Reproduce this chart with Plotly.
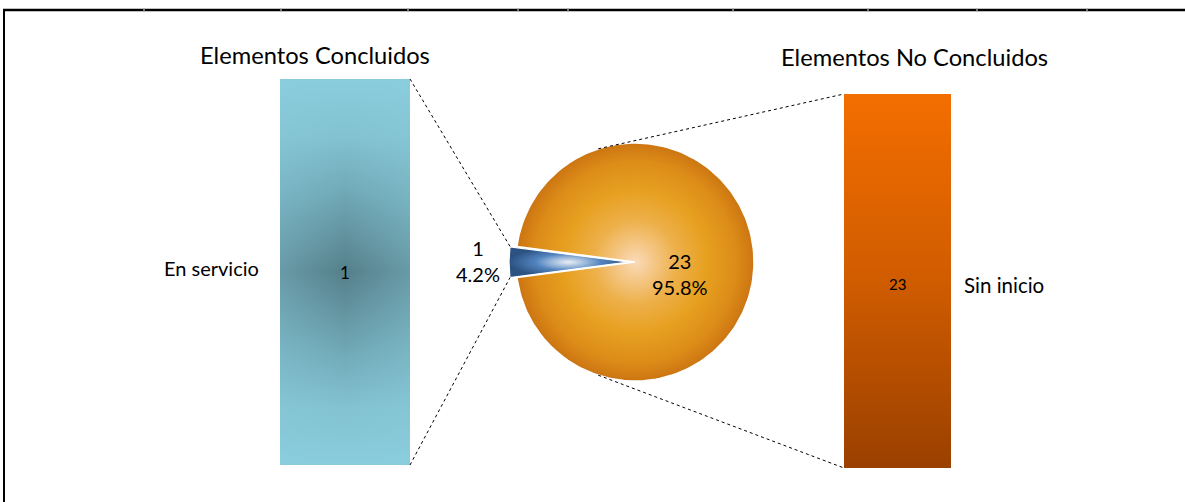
import numpy as np
import plotly.graph_objects as go

# ---------------- data ----------------
pie_labels = ["Elementos Concluidos", "Elementos No Concluidos"]
pie_values = [1, 23]
left_labels = ["En servicio"]
left_values = [1]
right_labels = ["Sin inicio"]
right_values = [23]
group_titles = ["Elementos Concluidos", "Elementos No Concluidos"]

# ---------------- layout helpers ----------------
W, H = 1185, 502
FONT = "Lato"


def px(x):
    return x / W


def py(y):
    return 1 - y / H


R = 119          # pie radius (pie axis units == pixels)
EXPLODE = 7      # explosion of the small slice
CX_PX, CY_PX = 635, 262

total = sum(pie_values)
small_half = 360.0 * pie_values[0] / total / 2.0


def wedge(a0, a1, r, dx=0.0, dy=0.0, n=180):
    ang = np.radians(np.linspace(a0, a1, n))
    xs = np.concatenate([[dx], dx + r * np.cos(ang), [dx]])
    ys = np.concatenate([[dy], dy + r * np.sin(ang), [dy]])
    return xs, ys


fig = go.Figure()

# ---- pie: big slice (No concluidos) ----
bx, by = wedge(180 + small_half, 540 - small_half, R)
fig.add_trace(go.Scatter(
    x=bx, y=by, mode="lines", fill="toself",
    line=dict(color="white", width=1.5),
    fillgradient=dict(type="radial", colorscale=[
        [0, "#FBDAB8"], [0.35, "#EDB04A"], [0.6, "#E7A020"], [0.85, "#DC8C18"], [1, "#CC7512"]]),
    hoverinfo="skip", showlegend=False, xaxis="x", yaxis="y"))

# ---- pie: small slice (Concluidos), exploded ----
ex = -EXPLODE
sx, sy = wedge(180 - small_half, 180 + small_half, R, dx=ex)
fig.add_trace(go.Scatter(
    x=sx, y=sy, mode="lines", fill="toself",
    line=dict(color="white", width=1.2),
    fillgradient=dict(type="radial", colorscale=[
        [0, "#E8EEF3"], [0.3, "#9AB8DA"], [0.55, "#5283BE"], [1, "#2C5282"]]),
    hoverinfo="skip", showlegend=False, xaxis="x", yaxis="y"))

# ---- left bar ----
lv = left_values[0]
bar_x = [-0.5, -0.5, 0.5, 0.5, -0.5]
fig.add_trace(go.Scatter(
    x=bar_x, y=[0, lv, lv, 0, 0],
    mode="lines", fill="toself", line=dict(width=0, color="rgba(0,0,0,0)"),
    fillgradient=dict(type="vertical", colorscale=[
        [0, "#8ACDDC"], [0.15, "#82C2D1"], [0.3, "#70A7B5"], [0.5, "#557F8A"],
        [0.7, "#70A7B5"], [0.85, "#82C2D1"], [1, "#8ACDDC"]]),
    hoverinfo="skip", showlegend=False, xaxis="x2", yaxis="y2"))
# soft horizontal lightening toward the sides (radial look)
fig.add_trace(go.Scatter(
    x=bar_x, y=[0, lv, lv, 0, 0],
    mode="lines", fill="toself", line=dict(width=0, color="rgba(0,0,0,0)"),
    fillgradient=dict(type="horizontal", colorscale=[
        [0, "rgba(138,205,220,0.35)"], [0.5, "rgba(138,205,220,0)"], [1, "rgba(138,205,220,0.35)"]]),
    hoverinfo="skip", showlegend=False, xaxis="x2", yaxis="y2"))

# ---- right bar ----
rv = right_values[0]
fig.add_trace(go.Scatter(
    x=bar_x, y=[0, rv, rv, 0, 0],
    mode="lines", fill="toself", line=dict(width=0, color="rgba(0,0,0,0)"),
    fillgradient=dict(type="vertical", colorscale=[
        [0, "#9A4000"], [0.5, "#D05C00"], [1, "#F36E00"]]),
    hoverinfo="skip", showlegend=False, xaxis="x3", yaxis="y3"))

# ---------------- axes ----------------
hid = dict(visible=False, showgrid=False, zeroline=False, fixedrange=True)
pie_xd = [px(455), px(815)]
pie_yd = [py(CY_PX + 140), py(CY_PX - 140)]
lb_x, lb_top, lb_bot = (280, 410), 79, 465
rb_x, rb_top, rb_bot = (844, 951), 94, 468

fig.update_layout(
    width=W, height=H, margin=dict(l=0, r=0, t=0, b=0),
    paper_bgcolor="white", plot_bgcolor="rgba(0,0,0,0)",
    font=dict(family=FONT, color="black"),
    xaxis=dict(domain=pie_xd, range=[-180, 180], **hid),
    yaxis=dict(domain=pie_yd, range=[-140, 140], **hid),
    xaxis2=dict(domain=[px(lb_x[0]), px(lb_x[1])], range=[-0.5, 0.5], anchor="y2", **hid),
    yaxis2=dict(domain=[py(lb_bot), py(lb_top)], range=[0, lv], anchor="x2", **hid),
    xaxis3=dict(domain=[px(rb_x[0]), px(rb_x[1])], range=[-0.5, 0.5], anchor="y3", **hid),
    yaxis3=dict(domain=[py(rb_bot), py(rb_top)], range=[0, rv], anchor="x3", **hid),
)

# ---------------- annotations ----------------
pct = [v / total * 100 for v in pie_values]
ann = []
# pie labels
ann.append(dict(x=45, y=-11.5, xref="x", yref="y", showarrow=False,
                text=f"{pie_values[1]}<br>{pct[1]:.1f}%", font=dict(size=20, family=FONT)))
ann.append(dict(x=-(R + EXPLODE + 31), y=1.5, xref="x", yref="y", showarrow=False,
                text=f"{pie_values[0]}<br>{pct[0]:.1f}%", font=dict(size=20, family=FONT)))
# bar value labels
ann.append(dict(x=0, y=lv / 2, xref="x2", yref="y2", showarrow=False,
                text=str(lv), font=dict(size=17, family=FONT)))
ann.append(dict(x=0, y=rv / 2, xref="x3", yref="y3", showarrow=False, yshift=-3,
                text=str(rv), font=dict(size=15, family=FONT)))
# category labels
ann.append(dict(x=-0.5, y=lv / 2, xref="x2", yref="y2", showarrow=False, xanchor="right",
                xshift=-19, yshift=4, text=left_labels[0], font=dict(size=20, family=FONT)))
ann.append(dict(x=0.5, y=rv / 2, xref="x3", yref="y3", showarrow=False, xanchor="left",
                xshift=11, yshift=-4, text=right_labels[0], font=dict(size=20.5, family=FONT)))
# group titles
ann.append(dict(x=px(315), y=py(55), xref="paper", yref="paper", showarrow=False,
                xanchor="center", yanchor="middle",
                text=group_titles[0], font=dict(size=23.7, family=FONT)))
ann.append(dict(x=px(914), y=py(57), xref="paper", yref="paper", showarrow=False,
                xanchor="center", yanchor="middle",
                text=group_titles[1], font=dict(size=23.7, family=FONT)))
fig.update_layout(annotations=ann)

# ---------------- connector lines & frame ----------------
shapes = []


def pie_to_paper(ux, uy):
    return px(CX_PX + ux), py(CY_PX - uy)


a_top = np.radians(180 - small_half)
a_bot = np.radians(180 + small_half)
tx, ty = pie_to_paper(ex + R * np.cos(a_top), R * np.sin(a_top))
bx2, by2 = pie_to_paper(ex + R * np.cos(a_bot), R * np.sin(a_bot))
dot = dict(color="black", width=1, dash="dot")
shapes.append(dict(type="line", xref="paper", yref="paper", x0=px(lb_x[1]), y0=py(lb_top), x1=tx, y1=ty, line=dot))
shapes.append(dict(type="line", xref="paper", yref="paper", x0=px(lb_x[1]), y0=py(lb_bot), x1=bx2, y1=by2, line=dot))
ang_c = np.radians(108)
ctx, cty = pie_to_paper(R * np.cos(ang_c), R * np.sin(ang_c))
cbx, cby = pie_to_paper(R * np.cos(-ang_c), R * np.sin(-ang_c))
shapes.append(dict(type="line", xref="paper", yref="paper", x0=ctx, y0=cty, x1=px(rb_x[0]), y1=py(rb_top), line=dot))
shapes.append(dict(type="line", xref="paper", yref="paper", x0=cbx, y0=cby, x1=px(rb_x[0]), y1=py(rb_bot), line=dot))

# frame
shapes.append(dict(type="line", xref="paper", yref="paper", x0=px(3), y0=py(10), x1=1, y1=py(10),
                   line=dict(color="black", width=2.5)))
shapes.append(dict(type="line", xref="paper", yref="paper", x0=px(4), y0=py(9), x1=px(4), y1=0,
                   line=dict(color="black", width=2)))
for gx in [144, 281, 408, 518, 568, 733, 868, 977, 1087]:
    shapes.append(dict(type="line", xref="paper", yref="paper", x0=px(gx), y0=py(8.5), x1=px(gx), y1=py(11.5),
                       line=dict(color="#9A9A9A", width=1.5)))
fig.update_layout(shapes=shapes)

fig.write_html("out.html",
               config={"displayModeBar": False},
               post_script="document.body.style.margin='0';document.body.style.padding='0';"
                           "document.body.style.overflow='hidden';")
